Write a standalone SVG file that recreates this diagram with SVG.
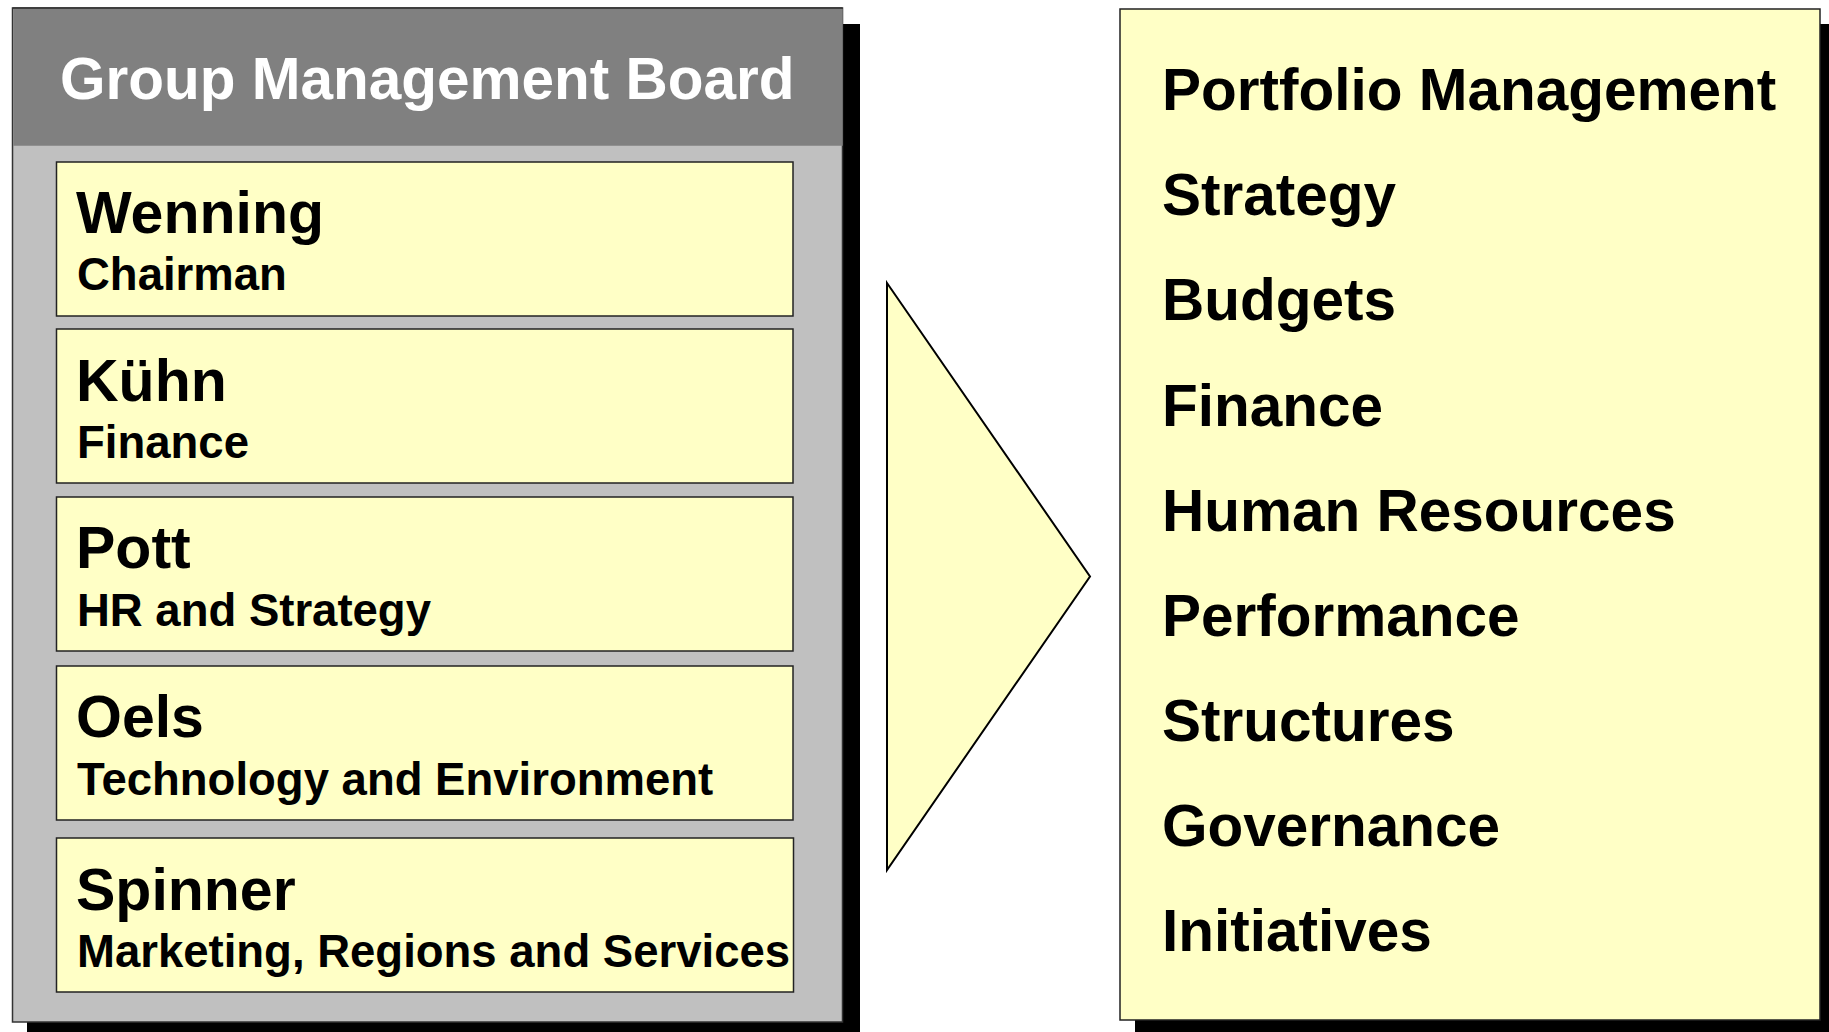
<svg xmlns="http://www.w3.org/2000/svg" width="1829" height="1032" viewBox="0 0 1829 1032">
<style>
  .shadow { fill: #000000; }
  .panel { fill: #C0C0C0; stroke: #333333; stroke-width: 1.5; }
  .header { fill: #808080; }
  .box { fill: #FFFFC6; stroke: #222222; stroke-width: 1.5; }
  .title { font-family: "Liberation Sans", Arial, sans-serif; font-weight: bold; font-size: 58.5px; fill: #FFFFFF; }
  .name { font-family: "Liberation Sans", Arial, sans-serif; font-weight: bold; font-size: 59px; fill: #000000; }
  .role { font-family: "Liberation Sans", Arial, sans-serif; font-weight: bold; font-size: 45.5px; fill: #000000; }
  .item { font-family: "Liberation Sans", Arial, sans-serif; font-weight: bold; font-size: 58.5px; fill: #000000; }
  .arrow { fill: #FFFFC6; stroke: #000000; stroke-width: 2; stroke-linejoin: miter; }
</style>
<rect width="1829" height="1032" fill="#FFFFFF"/>

<g id="board">
  <rect class="shadow" x="27" y="24" width="833" height="1016"/>
  <rect class="panel" x="12.5" y="8" width="830" height="1014"/>
  <rect class="header" x="13.25" y="8.75" width="829.5" height="137"/>
  <line x1="12.5" y1="8" x2="842.5" y2="8" stroke="#333333" stroke-width="1.5"/>
  <text class="title" x="60" y="99">Group Management Board</text>
</g>

<g id="wenning">
  <rect class="box" x="56.5" y="162" width="736.5" height="154"/>
  <text class="name" x="76" y="233">Wenning</text>
  <text class="role" x="77" y="290">Chairman</text>
</g>
<g id="kuehn">
  <rect class="box" x="56.5" y="329" width="736.5" height="154"/>
  <text class="name" x="76" y="401">Kühn</text>
  <text class="role" x="77" y="458">Finance</text>
</g>
<g id="pott">
  <rect class="box" x="56.5" y="497" width="736.5" height="154"/>
  <text class="name" x="76" y="568">Pott</text>
  <text class="role" x="77" y="626">HR and Strategy</text>
</g>
<g id="oels">
  <rect class="box" x="56.5" y="666" width="736.5" height="154"/>
  <text class="name" x="76" y="737">Oels</text>
  <text class="role" x="77" y="795">Technology and Environment</text>
</g>
<g id="spinner">
  <rect class="box" x="56.5" y="838" width="737" height="154"/>
  <text class="name" x="76" y="910">Spinner</text>
  <text class="role" x="77" y="967">Marketing, Regions and Services</text>
</g>

<g id="connectors">
  <polygon class="arrow" points="887,283 1090,576.5 887,870"/>
</g>

<g id="responsibilities">
  <rect class="shadow" x="1135" y="24" width="700" height="1012"/>
  <rect class="box" x="1120" y="9" width="700" height="1011"/>
  <text class="item" x="1162" y="110">Portfolio Management</text>
  <text class="item" x="1162" y="215">Strategy</text>
  <text class="item" x="1162" y="320">Budgets</text>
  <text class="item" x="1162" y="425.5">Finance</text>
  <text class="item" x="1162" y="531">Human Resources</text>
  <text class="item" x="1162" y="636">Performance</text>
  <text class="item" x="1162" y="741">Structures</text>
  <text class="item" x="1162" y="846">Governance</text>
  <text class="item" x="1162" y="951">Initiatives</text>
</g>
</svg>
